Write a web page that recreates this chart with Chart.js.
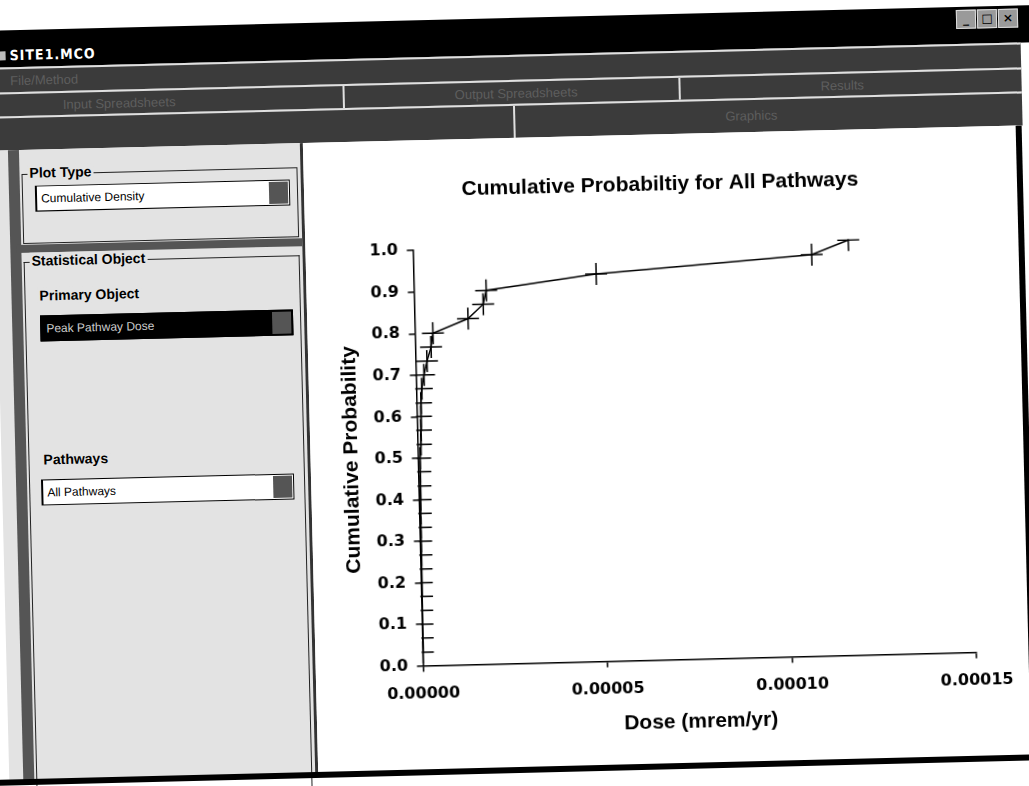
<!DOCTYPE html>
<html>
<head>
    <title>SITE1.MCO - Cumulative Probability</title>
    <script src="https://cdn.jsdelivr.net/npm/chart.js"></script>
    <style>
        body { margin: 0; background: #fff; overflow: hidden; font-family: 'Liberation Sans', Arial, sans-serif; }
        #scan { position: absolute; left: 0; top: 0; width: 1029px; height: 786px;
                transform: rotate(-1.4deg); transform-origin: 514px 393px; }
        .abs { position: absolute; }
        .titlebar { left: -30px; top: 18px; width: 1090px; height: 37px; background: #000; }
        .titlebar span { position: absolute; left: 48px; top: 17px; color: #fff; font: bold 14px 'DejaVu Sans Condensed', sans-serif; letter-spacing: 1px; }
        .icon { left: 36px; top: 21px; width: 8px; height: 9px; background: #bbb; }
        .btn { top: 3px; width: 18px; height: 17px; background: #9a9a9a; border: 1px solid #ddd; color: #000; font: bold 12px 'DejaVu Sans', sans-serif; text-align: center; line-height: 17px; }
        .tabrow { left: 0; width: 1029px; background: #3b3b3b; border-top: 2px solid #e0e0e0; }
        .tab { position: absolute; top: 0; bottom: 0; border-left: 2px solid #e0e0e0; color: #5e5e5e; font-size: 13px; white-space: nowrap; }
        .tab span { position: absolute; top: 4px; }
        .leftpanel { left: 0; top: 138px; width: 306px; height: 632px; background: #e3e3e3; border-right: 3px solid #333; }
        .strip { left: 14px; top: 138px; width: 11px; height: 632px; background: #555; }
        .group { border: 1px solid #222; }
        .glabel { background: #e3e3e3; font-weight: bold; font-size: 14px; color: #000; padding: 0 2px; white-space: nowrap; }
        .combo { background: #fff; border: 1px solid #000; border-left: 2px solid #000; font-size: 12px; color: #000; }
        .combo span { position: absolute; left: 4px; top: 5px; }
        .drop { position: absolute; right: 1px; top: 1px; width: 19px; bottom: 1px; background: #555; }
        .chartpane { left: 309px; top: 138px; width: 713px; height: 629px; background: #fff; border-right: 6px solid #000; }
        .bottomline { left: -30px; top: 767px; width: 1090px; height: 6px; background: #000; }
    </style>
</head>
<body>
<div id="scan">
    <div class="abs titlebar">
        <div class="abs icon"></div>
        <span>SITE1.MCO</span>
        <div class="abs btn" style="left:995px">_</div>
        <div class="abs btn" style="left:1016px">□</div>
        <div class="abs btn" style="left:1037px">×</div>
    </div>
    <div class="abs tabrow" style="top:55px;height:23px">
        <div class="tab" style="left:10px;border-left:none"><span style="left:8px">File/Method</span></div>
    </div>
    <div class="abs tabrow" style="top:80px;height:22px">
        <div class="tab" style="left:0;border-left:none"><span style="left:70px">Input Spreadsheets</span></div>
        <div class="tab" style="left:350px"><span style="left:110px">Output Spreadsheets</span></div>
        <div class="tab" style="left:686px"><span style="left:140px">Results</span></div>
    </div>
    <div class="abs tabrow" style="top:104px;height:32px">
        <div class="tab" style="left:520px"><span style="left:210px;top:8px">Graphics</span></div>
    </div>

    <div class="abs leftpanel"></div>
    <div class="abs strip"></div>

    <div class="abs group" style="left:27px;top:162px;width:274px;height:68px"></div>
    <div class="abs glabel" style="left:33px;top:153px">Plot Type</div>
    <div class="abs combo" style="left:40px;top:174px;width:252px;height:24px">
        <span>Cumulative Density</span><div class="drop"></div>
    </div>

    <div class="abs" style="left:20px;top:233px;width:286px;height:8px;background:#555"></div>

    <div class="abs group" style="left:27px;top:250px;width:274px;height:530px;border-bottom:none"></div>
    <div class="abs glabel" style="left:33px;top:241px">Statistical Object</div>
    <div class="abs glabel" style="left:40px;top:276px">Primary Object</div>
    <div class="abs combo" style="left:42px;top:304px;width:250px;height:24px;background:#000">
        <span style="color:#ccc">Peak Pathway Dose</span><div class="drop"></div>
    </div>
    <div class="abs glabel" style="left:40px;top:440px">Pathways</div>
    <div class="abs combo" style="left:39px;top:468px;width:250px;height:24px">
        <span>All Pathways</span><div class="drop"></div>
    </div>

    <div class="abs chartpane">
        <div style="position:absolute;left:1px;top:0;width:712px;height:632px">
            <canvas id="cdfChart"></canvas>
        </div>
    </div>
    <div class="abs bottomline"></div>
</div>

<script>
    // cumulative probability (one step per sample) against dose
    const doseValues = [
        0.00000005, 0.00000010, 0.00000012, 0.00000015, 0.00000020,
        0.00000022, 0.00000025, 0.00000030, 0.00000032, 0.00000035,
        0.00000040, 0.00000045, 0.00000050, 0.00000055, 0.00000060,
        0.00000090, 0.00000100, 0.00000110, 0.00000120, 0.00000150,
        0.0000022, 0.0000031, 0.0000043, 0.0000049, 0.0000145,
        0.0000187, 0.0000196, 0.0000495, 0.000108, 0.000118
    ];
    const probValues = [
        0.033, 0.067, 0.100, 0.133, 0.167, 0.200, 0.233, 0.267, 0.300, 0.333,
        0.367, 0.400, 0.433, 0.467, 0.500, 0.533, 0.567, 0.600, 0.633, 0.667,
        0.700, 0.733, 0.767, 0.800, 0.833, 0.867, 0.900, 0.933, 0.967, 1.000
    ];
    const xTickValues = [0, 0.00005, 0.00010, 0.00015];
    const yTickValues = [0, 0.1, 0.2, 0.3, 0.4, 0.5, 0.6, 0.7, 0.8, 0.9, 1.0];

    const tickFont = { family: "'DejaVu Sans', sans-serif", size: 16, weight: 'bold' };
    const titleFont = { family: "'Liberation Sans', Arial, sans-serif", size: 21, weight: 'bold' };

    const ctx = document.getElementById('cdfChart').getContext('2d');
    const cdfChart = new Chart(ctx, {
        type: 'scatter',
        data: {
            datasets: [{
                label: 'All Pathways',
                data: doseValues.map((d, i) => ({ x: d, y: probValues[i] })),
                showLine: true,
                borderColor: '#000',
                borderWidth: 1.5,
                pointStyle: 'cross',
                pointRadius: 11,
                pointBorderWidth: 1.5,
                pointBorderColor: '#000',
                clip: 1
            }]
        },
        options: {
            animation: false,
            responsive: true,
            maintainAspectRatio: false,
            layout: { padding: { left: 50, right: 52, top: 0, bottom: 27 } },
            plugins: {
                legend: { display: false },
                tooltip: { enabled: false },
                title: {
                    display: true,
                    text: 'Cumulative Probabiltiy for All Pathways',
                    color: '#000',
                    font: titleFont,
                    padding: { top: 38, bottom: 47 }
                }
            },
            scales: {
                x: {
                    type: 'linear',
                    min: 0,
                    max: 0.00015,
                    afterBuildTicks: axis => { axis.ticks = xTickValues.map(v => ({ value: v })); },
                    ticks: {
                        callback: v => v.toFixed(5),
                        font: tickFont,
                        color: '#000',
                        padding: 13,
                        maxRotation: 0,
                        autoSkip: false
                    },
                    grid: { drawOnChartArea: false, tickLength: 6, color: '#000', lineWidth: 1.5 },
                    border: { color: '#000', width: 1.5 },
                    title: { display: true, text: 'Dose (mrem/yr)', color: '#000', font: titleFont, padding: { top: -1, bottom: 4 } }
                },
                y: {
                    type: 'linear',
                    min: 0,
                    max: 1,
                    afterBuildTicks: axis => { axis.ticks = yTickValues.map(v => ({ value: v })); },
                    ticks: {
                        callback: v => v.toFixed(1),
                        font: tickFont,
                        color: '#000',
                        padding: 9,
                        autoSkip: false
                    },
                    grid: { drawOnChartArea: false, tickLength: 6, color: '#000', lineWidth: 1.5 },
                    border: { color: '#000', width: 1.5 },
                    title: { display: true, text: 'Cumulative Probability', color: '#000', font: titleFont, padding: { top: -22.6, bottom: 1.4 } }
                }
            }
        }
    });
</script>
</body>
</html>
